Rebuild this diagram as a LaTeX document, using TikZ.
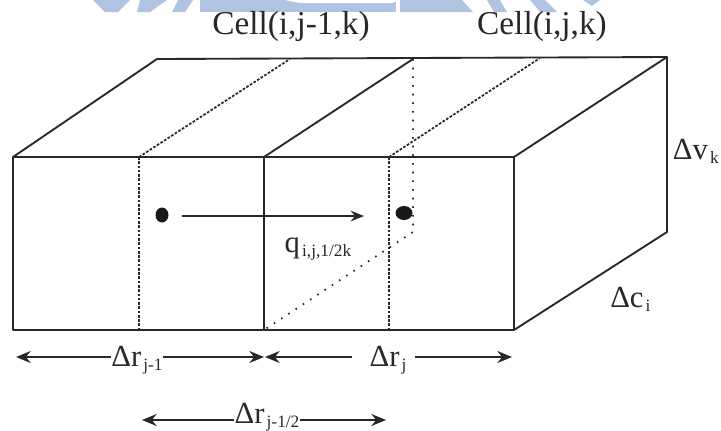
\documentclass[tikz,border=0pt]{standalone}
\usepackage{fontspec}
\setmainfont{Liberation Serif}
\usetikzlibrary{arrows.meta}
\definecolor{markblue}{RGB}{176,196,226}
\definecolor{inkgrey}{RGB}{40,40,40}
\newcommand{\lowsub}[1]{\hspace{1.6pt}\raisebox{-3.2pt}{\fontsize{13}{14}\selectfont #1}}
\tikzset{
  edgeline/.style={line width=1.4pt,color=inkgrey},
  dashline/.style={line width=1.3pt,color=inkgrey,dash pattern=on 2pt off 1.2pt},
  dotline/.style={line width=1.3pt,color=inkgrey,dash pattern=on 1.2pt off 5.3pt},
  dimleft/.style={line width=1.2pt,color=inkgrey,{Stealth[length=11pt,width=9pt]}-},
  dimright/.style={line width=1.2pt,color=inkgrey,-{Stealth[length=11pt,width=9pt]}},
  celllabel/.style={font=\fontsize{25}{27}\selectfont,color=inkgrey,inner sep=0pt,anchor=base},
  dimlabel/.style={font=\fontsize{23}{25}\selectfont,color=inkgrey,inner sep=0pt,anchor=base}
}
\begin{document}
\begin{tikzpicture}[x=0.75pt,y=-0.75pt,line cap=butt,line join=round]
  \useasboundingbox (0,0) rectangle (721,430);
  % corners
  \coordinate (FL) at (13,157);
  \coordinate (FM) at (264,157);
  \coordinate (FR) at (514,157);
  \coordinate (BL) at (13,330);
  \coordinate (BM) at (264,330);
  \coordinate (BR) at (514,330);
  \coordinate (TL) at (157,59);
  \coordinate (TM) at (413,59);
  \coordinate (TR) at (667,57);
  \coordinate (RB) at (667,232);
  \coordinate (DB) at (413,232);
  % watermark at the top edge
  \fill[markblue] (93,0) -- (130,0) -- (118,12) -- (105,12) -- cycle;
  \fill[markblue] (140,0) -- (167,0) -- (150,12) -- (137,12) -- cycle;
  \fill[markblue] (178,0) -- (193,0) -- (185,12) -- (172,12) -- cycle;
  \fill[markblue] (200,0) -- (396,0) -- (396,12) -- (200,12) -- cycle;
  \fill[white] (285,0) -- (400,0) -- (392,3) -- (300,3) -- cycle;
  \fill[markblue] (400,0) -- (462,0) -- (473,12) -- (400,12) -- cycle;
  \fill[markblue] (487,0) -- (500,0) -- (507,12) -- (494,12) -- cycle;
  \fill[markblue] (530,0) -- (545,0) -- (557,12) -- (540,12) -- cycle;
  \fill[markblue] (583,0) -- (600,0) -- (592,6) -- cycle;
  % box
  \draw[edgeline] (FL) rectangle (BR);
  \draw[edgeline] (FM) -- (BM);
  \draw[edgeline] (FL) -- (TL) -- (TR) -- (FR);
  \draw[edgeline] (FM) -- (TM);
  \draw[edgeline] (TR) -- (RB) -- (BR);
  % cell centres
  \draw[dashline] (139,157) -- (139,330);
  \draw[dashline] (389,157) -- (389,330);
  \draw[dashline] (139,157) -- (290,59);
  \draw[dashline] (389,157) -- (540,58);
  % cell face
  \draw[dotline] (TM) -- (DB) -- (BM);
  % flow
  \fill[black!90] (162,215) ellipse (6.5 and 7.5);
  \fill[black!90] (404,213) ellipse (8.5 and 7);
  \draw[edgeline,-{Stealth[length=10pt,width=8pt]}] (182,216) -- (364,216);
  % labels
  \node[celllabel] (cellA) at (291,34) {Cell(i,j-1,k)};
  \node[celllabel] (cellB) at (542,34) {Cell(i,j,k)};
  \node[dimlabel] (flux) at (318,252) {q\lowsub{i,j,1/2k}};
  \node[dimlabel,anchor=base east] (dv) at (719,159) {Δv\lowsub{k}};
  \node[dimlabel,anchor=base west] (dc) at (610,307) {Δc\lowsub{i}};
  \node[dimlabel] (drA) at (137,366) {Δr\lowsub{j-1}};
  \node[dimlabel] (drB) at (388,366) {Δr\lowsub{j}};
  \node[dimlabel] (drC) at (267,423) {Δr\lowsub{j-1/2}};
  % dimension arrows
  \coordinate (a1) at (16,357);
  \coordinate (a2) at (264,357);
  \coordinate (a3) at (265,357);
  \coordinate (a4) at (352,357);
  \coordinate (a5) at (415,357);
  \coordinate (a6) at (512,357);
  \coordinate (a7) at (142,420);
  \coordinate (a8) at (386,420);
  \draw[dimleft] (a1) -- (drA.west |- a1);
  \draw[dimright] (drA.east |- a1) -- (a2);
  \draw[dimleft] (a3) -- (a4);
  \draw[dimright] (a5) -- (a6);
  \draw[dimleft] (a7) -- (drC.west |- a7);
  \draw[dimright] (drC.east |- a7) -- (a8);
\end{tikzpicture}
\end{document}
